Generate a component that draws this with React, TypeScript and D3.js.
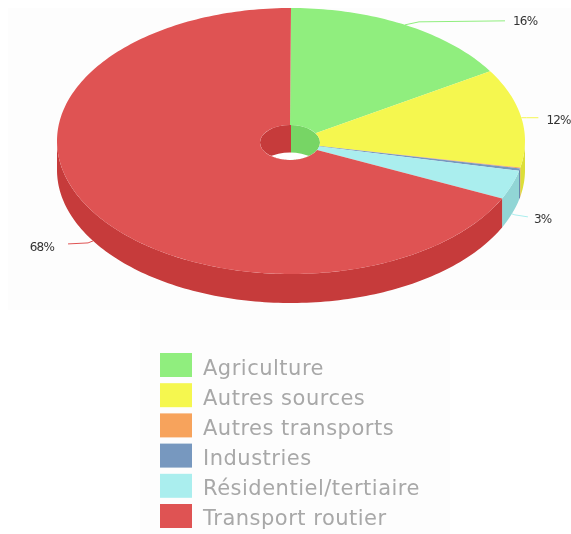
import React from "react";
import * as d3 from "d3";

const categories = ["Agriculture", "Autres sources", "Autres transports", "Industries", "Résidentiel/tertiaire", "Transport routier"];
const values = [16.2, 12, 0.1, 0.3, 3.5, 67.9];
const colors = ["#90ee7e", "#f5f750", "#f7a35c", "#7798bf", "#aaeeee", "#df5353"];
const pointLabels = ["16%", "12%", "", "", "3%", "68%"];

const W = 571, H = 534;
const cx = 291, cy = 141, rx = 234, ry = 133, depth = 29;
const holeCx = 290, holeCy = 142.5, holeRx = 30, holeRy = 17.5;

// leader end and label placement per labelled slice: [elbowDx, elbowDy, endDx, endDy, textDx, textDy]
const leaders: Record<number, number[]> = {
  0: [14, -3, 100, -4, 108, 4],
  1: [5, 0, 17, 0, 25, 6],
  4: [3, 1, 16, 3, 22, 6],
  5: [-5, 2, -25, 3, -39, 7],
};

const pieGen = d3.pie<number>().sort(null).value((d) => d);
const arcs = pieGen(values);
const px = (a: number, r = 1) => cx + rx * r * Math.sin(a);
const py = (a: number, r = 1) => cy - ry * r * Math.cos(a);

const wall = d3
  .area<number>()
  .x((a) => px(a))
  .y0((a) => py(a))
  .y1((a) => py(a) + depth);

function side(c: string) {
  const col = d3.rgb(c);
  return d3.rgb(col.r - 25, col.g - 25, col.b - 25).formatHex();
}

function wallRange(start: number, end: number) {
  const s = Math.max(start, Math.PI / 2);
  const e = Math.min(end, (3 * Math.PI) / 2);
  if (e <= s) return null;
  const n = Math.ceil((e - s) / 0.02) + 1;
  return d3.range(n).map((i) => s + ((e - s) * i) / (n - 1));
}

export default function App() {
  return (
    <svg width={W} height={H} style={{ position: "absolute", left: 0, top: 0, background: "#fff" }}>
      <defs>
        <filter id="soft" x="-5%" y="-5%" width="110%" height="110%">
          <feGaussianBlur stdDeviation="0.55" />
        </filter>
        <clipPath id="holeClip">
          <ellipse cx={holeCx} cy={holeCy} rx={holeRx} ry={holeRy} />
        </clipPath>
      </defs>
      <rect x={8} y={8} width={W - 8} height={302} fill="#fdfdfd" />
      <rect x={140} y={310} width={310} height={224} fill="#fdfdfd" />
      <g filter="url(#soft)">
        {arcs.map((a, i) => {
          const r = wallRange(a.startAngle, a.endAngle);
          return r ? <path key={i} d={wall(r) ?? ""} fill={side(colors[i])} /> : null;
        })}
        {/* inner wall of the hole, seen through the top face */}
        <g clipPath="url(#holeClip)">
          <rect x={holeCx - holeRx} y={holeCy - holeRy} width={holeRx + 1} height={holeRy * 2} fill={side(colors[5])} />
          <rect x={holeCx + 1} y={holeCy - holeRy} width={holeRx} height={holeRy * 2} fill={side(colors[0])} />
          <ellipse cx={holeCx} cy={holeCy + depth - 1.5} rx={holeRx} ry={holeRy} fill="#ffffff" />
        </g>
        {arcs.map((a, i) => {
          const n = Math.ceil((a.endAngle - a.startAngle) / 0.02) + 2;
          const angles = d3.range(n).map((k) => a.startAngle + ((a.endAngle - a.startAngle) * k) / (n - 1));
          const outer = angles.map((t) => [px(t), py(t)] as [number, number]);
          const inner = angles
            .slice()
            .reverse()
            .map((t) => [holeCx + holeRx * Math.sin(t), holeCy - holeRy * Math.cos(t)] as [number, number]);
          const d = d3.line()([...outer, ...inner]) + "Z";
          return <path key={i} d={d} fill={colors[i]} />;
        })}
        {arcs.map((a, i) => {
          if (!pointLabels[i]) return null;
          const mid = (a.startAngle + a.endAngle) / 2;
          const front = Math.cos(mid) < -0.2;
          const x0 = px(mid);
          const y0 = py(mid) + (front ? depth : 0);
          const l = leaders[i];
          return (
            <g key={i}>
              <polyline
                points={`${x0},${y0} ${x0 + l[0]},${y0 + l[1]} ${x0 + l[2]},${y0 + l[3]}`}
                fill="none"
                stroke={colors[i]}
                strokeWidth={1}
              />
              <text
                x={x0 + l[4]}
                y={y0 + l[3] + l[5]}
                fontFamily="'DejaVu Sans', sans-serif"
                fontSize={12}
                fontWeight={500}
                letterSpacing={-0.8}
                fill="#333"
                textAnchor={l[4] < 0 ? "end" : "start"}
              >
                {pointLabels[i]}
              </text>
            </g>
          );
        })}
        {categories.map((c, i) => (
          <g key={c}>
            <rect x={160} y={353 + i * 30.2} width={32} height={24} fill={colors[i]} />
            <text
              x={203}
              y={374.5 + i * 30.1}
              fontFamily="'DejaVu Sans', sans-serif"
              fontSize={21}
              fill="#a8a8a8"
              letterSpacing={0.5}
            >
              {c}
            </text>
          </g>
        ))}
      </g>
    </svg>
  );
}
